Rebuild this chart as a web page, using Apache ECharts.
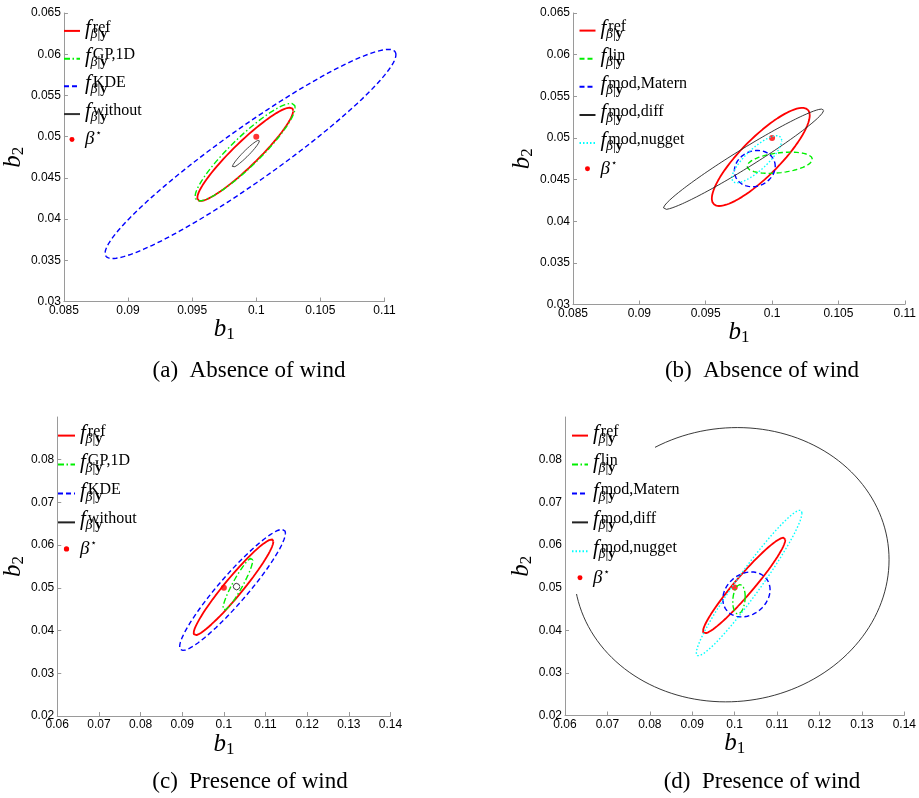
<!DOCTYPE html>
<html>
<head>
<meta charset="utf-8">
<script src="https://cdn.jsdelivr.net/npm/echarts@6/dist/echarts.min.js"></script>
<style>
html, body { margin: 0; padding: 0; background: #fff; }
#main { width: 919px; height: 798px; }
</style>
</head>
<body>
<div id="main"></div>
<script>
// each region: [centre b1, centre b2, rightmost b1, b2 at rightmost, half vertical chord through centre]
var aRef = [0.09914, 0.04786, 0.10288, 0.05314, 0.00206];
var aGP = [0.09913, 0.04812, 0.10303, 0.05351, 0.00243];
var aKDE = [0.09955, 0.04790, 0.11089, 0.05994, 0.0040];
var aWithout = [0.09919, 0.04792, 0.10025, 0.04950, 0.00049];

var bRef = [0.09915, 0.04772, 0.10284, 0.05272, 0.00312];
var bLin = [0.10058, 0.04702, 0.10304, 0.04744, 0.0012];
var bMatern = [0.09870, 0.04632, 0.10024, 0.04660, 0.00216];
var bDiff = [0.09785, 0.04744, 0.10389, 0.05332, 0.00132];
var bNugget = [0.09885, 0.04744, 0.10073, 0.04972, 0.00168];

var cRef = [0.10231, 0.05012, 0.11189, 0.06085, 0.00328];
var cGP = [0.10337, 0.05089, 0.10696, 0.05656, 0.00234];
var cKDE = [0.10208, 0.04953, 0.11478, 0.06282, 0.00492];
var cWithout = [0.10304, 0.05030, 0.10382, 0.05030, 0.00078];

var dRef = [0.10224, 0.05048, 0.11195, 0.06122, 0.00328];
var dLin = [0.10102, 0.04726, 0.10248, 0.04785, 0.0034];
var dMatern = [0.10278, 0.04839, 0.10835, 0.04949, 0.00516];
var dDiff = [0.09926, 0.05536, 0.1364, 0.05653, 0.03214];
var dNugget = [0.10342, 0.05107, 0.11588, 0.06749, 0.00469];

var betaStar = [0.1, 0.05];

// axis ranges [min, max, step]
var windOffB1 = [0.085, 0.11, 0.005];
var windOffB2 = [0.03, 0.065, 0.005];
var windOnB1 = [0.06, 0.14, 0.01];
var windOnB2 = [0.02, 0.09, 0.01];
var windOnB2Ticks = [0.02, 0.03, 0.04, 0.05, 0.06, 0.07, 0.08];

var captions = ['(a)  Absence of wind', '(b)  Absence of wind', '(c)  Presence of wind', '(d)  Presence of wind'];
var supText = {
    ref: 'ref', gp: 'GP,1D', kde: 'KDE', without: 'without',
    lin: 'lin', matern: 'mod,Matern', diff: 'mod,diff', nugget: 'mod,nugget'
};

var serif = '"Liberation Serif", "DejaVu Serif", serif';
var axisGrey = '#9a9a9a';

function ellipsePoints(p) {
    var pts = [];
    var ux = p[2] - p[0], uy = p[3] - p[1];
    for (var k = 0; k <= 160; k++) {
        var t = 2 * Math.PI * k / 160;
        pts.push([p[0] + ux * Math.cos(t), p[1] + uy * Math.cos(t) + p[4] * Math.sin(t)]);
    }
    return pts;
}

var styles = {
    ref: { color: '#ff0000', width: 1.8, type: 'solid' },
    gp: { color: '#00f000', width: 1.4, type: [6, 2.5, 1.5, 2.5] },
    kde: { color: '#0000ff', width: 1.4, type: [5, 3] },
    without: { color: '#333333', width: 0.9, type: 'solid' },
    linDash: { color: '#00f000', width: 1.4, type: [5, 3] },
    linDashDot: { color: '#00f000', width: 1.4, type: [6, 2.5, 1.5, 2.5] },
    matern: { color: '#0000ff', width: 1.4, type: [5, 3] },
    diff: { color: '#222222', width: 0.9, type: 'solid' },
    nugget: { color: '#00ffff', width: 1.4, type: [1.5, 2] }
};

function curve(name, idx, p, st) {
    return {
        name: name, type: 'line', xAxisIndex: idx, yAxisIndex: idx,
        data: p ? ellipsePoints(p) : [], symbol: 'none', showSymbol: false,
        clip: false, animation: false, silent: true,
        lineStyle: { color: st.color, width: st.width, type: st.type },
        itemStyle: { color: st.color }
    };
}
// line series clip along b1 even with clip:false, so a region that runs past the b1 range is drawn as a custom polyline
function openCurve(name, idx, p, st) {
    var pts = ellipsePoints(p);
    return {
        name: name, type: 'custom', xAxisIndex: idx, yAxisIndex: idx,
        data: pts, clip: false, animation: false, silent: true,
        renderItem: function (params, api) {
            if (params.dataIndex !== 0) return null;
            return {
                type: 'polyline',
                shape: { points: pts.map(function (q) { return api.coord(q); }) },
                style: { stroke: st.color, lineWidth: st.width, lineDash: st.type === 'solid' ? null : st.type, fill: null }
            };
        }
    };
}
function star(name, idx) {
    return {
        name: name, type: 'scatter', xAxisIndex: idx, yAxisIndex: idx,
        data: [betaStar], symbolSize: 6, animation: false, silent: true,
        itemStyle: { color: '#ff0000' }
    };
}

var nameRich = {
    i: { fontFamily: serif, fontStyle: 'italic', fontSize: 25, color: '#000' },
    s: { fontFamily: serif, fontSize: 17, color: '#000', padding: [10, 0, 0, 0] }
};

function xAxis(idx, r) {
    return {
        type: 'value', gridIndex: idx, min: r[0], max: r[1], interval: r[2],
        axisLine: { lineStyle: { color: axisGrey } },
        axisTick: { inside: true, length: 4, lineStyle: { color: axisGrey } },
        axisLabel: { color: '#000', fontSize: 12, fontFamily: 'Liberation Sans', margin: 3 },
        splitLine: { show: false },
        name: '{i|b}{s|1}', nameLocation: 'middle', nameGap: 14,
        nameTextStyle: { rich: nameRich }
    };
}
function yAxis(idx, r, gap, ticks) {
    var ax = {
        type: 'value', gridIndex: idx, min: r[0], max: r[1], interval: r[2],
        axisLine: { lineStyle: { color: axisGrey } },
        axisTick: { inside: true, length: 4, lineStyle: { color: axisGrey } },
        axisLabel: { color: '#000', fontSize: 12, fontFamily: 'Liberation Sans', margin: 3 },
        splitLine: { show: false },
        name: '{i|b}{s|2}', nameLocation: 'middle', nameGap: gap,
        nameTextStyle: { rich: nameRich }
    };
    if (ticks) {
        ax.axisTick.customValues = ticks;
        ax.axisLabel.customValues = ticks;
    }
    return ax;
}

var legendRich = {
    f: { fontFamily: serif, fontStyle: 'italic', fontSize: 21, color: '#000', lineHeight: 6.85, height: 4.8, verticalAlign: 'bottom' },
    sup: { fontFamily: serif, fontSize: 16, color: '#000', lineHeight: 6.85, padding: [0, 0, 0, 2] },
    gap: { width: 5.5, fontSize: 12, lineHeight: 6.85 },
    sb: { fontFamily: serif, fontStyle: 'italic', fontSize: 14, color: '#000', lineHeight: 6.85 },
    sv: { fontFamily: serif, fontSize: 14, color: '#000', lineHeight: 6.85 },
    sy: { fontFamily: serif, fontWeight: 'bold', fontSize: 14, color: '#000', lineHeight: 6.85 },
    beta: { fontFamily: serif, fontStyle: 'italic', fontSize: 19, color: '#000', lineHeight: 13.7 },
    star: { fontFamily: 'DejaVu Sans', fontSize: 10, color: '#000', lineHeight: 13.7, padding: [0, 0, 11, 1] }
};
function legendText(name) {
    var key = name.split(':')[1];
    if (key === 'star') return '{beta|β}{star|⋆}';
    return '{f|f}{sup|' + supText[key] + '}\n{gap| }{sb|β}{sv||}{sy|y}';
}
var dotIcon = 'path://M0,0M18,10M6.2,5a2.8,2.8 0 1,0 5.6,0a2.8,2.8 0 1,0 -5.6,0z';
function legend(left, top, w, gap, keys, p) {
    var data = keys.map(function (k) {
        return k === 'star' ? { name: p + ':star', icon: dotIcon, itemStyle: { opacity: 1 } } : { name: p + ':' + k };
    });
    return {
        left: left, top: top, orient: 'vertical', padding: 0,
        itemWidth: w, itemHeight: 10, itemGap: gap, selectedMode: false, z: 20,
        itemStyle: { opacity: 0 },
        data: data, formatter: legendText,
        textStyle: { fontSize: 6, lineHeight: 6.85, rich: legendRich }
    };
}

var option = {
    backgroundColor: '#fff',
    animation: false,
    grid: [
        { left: 57, top: 13, width: 327.5, height: 288.5 },
        { left: 573, top: 13, width: 332.5, height: 291.5 },
        { left: 50, top: 417, width: 340.5, height: 299 },
        { left: 565, top: 417, width: 340.5, height: 298.5 }
    ],
    xAxis: [xAxis(0, windOffB1), xAxis(1, windOffB1), xAxis(2, windOnB1), xAxis(3, windOnB1)],
    yAxis: [
        yAxis(0, windOffB2, 27), yAxis(1, windOffB2, 27),
        yAxis(2, windOnB2, 19, windOnB2Ticks), yAxis(3, windOnB2, 19, windOnB2Ticks)
    ],
    legend: [
        legend(63, 18, 16, 4.4, ['ref', 'gp', 'kde', 'without', 'star'], 'a'),
        legend(578.5, 17.7, 16, 4.8, ['ref', 'lin', 'matern', 'diff', 'nugget', 'star'], 'b'),
        legend(57, 422.7, 17, 5.6, ['ref', 'gp', 'kde', 'without', 'star'], 'c'),
        legend(571, 422.7, 16, 5.6, ['ref', 'lin', 'matern', 'diff', 'nugget', 'star'], 'd')
    ],
    graphic: [
        // the white legend box of panel (d) hides part of the mod,diff region
        { type: 'rect', z: 10, silent: true, shape: { x: 566, y: 418, width: 89, height: 176 }, style: { fill: '#fff' } },
        { type: 'text', x: 249, y: 371, style: { text: captions[0], font: '23px ' + serif, fill: '#000', textAlign: 'center', textVerticalAlign: 'middle' } },
        { type: 'text', x: 762, y: 371, style: { text: captions[1], font: '23px ' + serif, fill: '#000', textAlign: 'center', textVerticalAlign: 'middle' } },
        { type: 'text', x: 250, y: 782, style: { text: captions[2], font: '23px ' + serif, fill: '#000', textAlign: 'center', textVerticalAlign: 'middle' } },
        { type: 'text', x: 762, y: 782, style: { text: captions[3], font: '23px ' + serif, fill: '#000', textAlign: 'center', textVerticalAlign: 'middle' } }
    ],
    series: [
        curve('a:ref', 0, aRef, styles.ref),
        curve('a:gp', 0, aGP, styles.gp),
        curve('a:kde', 0, null, styles.kde),
        openCurve('a:kde region', 0, aKDE, styles.kde),
        curve('a:without', 0, aWithout, styles.without),
        star('a:star', 0),

        curve('b:ref', 1, bRef, styles.ref),
        curve('b:lin', 1, bLin, styles.linDash),
        curve('b:matern', 1, bMatern, styles.matern),
        curve('b:diff', 1, bDiff, styles.diff),
        curve('b:nugget', 1, bNugget, styles.nugget),
        star('b:star', 1),

        curve('c:ref', 2, cRef, styles.ref),
        curve('c:gp', 2, cGP, styles.gp),
        curve('c:kde', 2, cKDE, styles.kde),
        curve('c:without', 2, cWithout, styles.diff),
        star('c:star', 2),

        curve('d:ref', 3, dRef, styles.ref),
        curve('d:lin', 3, dLin, styles.linDashDot),
        curve('d:matern', 3, dMatern, styles.matern),
        curve('d:diff', 3, dDiff, styles.diff),
        curve('d:nugget', 3, dNugget, styles.nugget),
        star('d:star', 3)
    ]
};

var myChart = echarts.init(document.getElementById('main'), null, { renderer: 'canvas' });
myChart.setOption(option);
</script>
</body>
</html>
